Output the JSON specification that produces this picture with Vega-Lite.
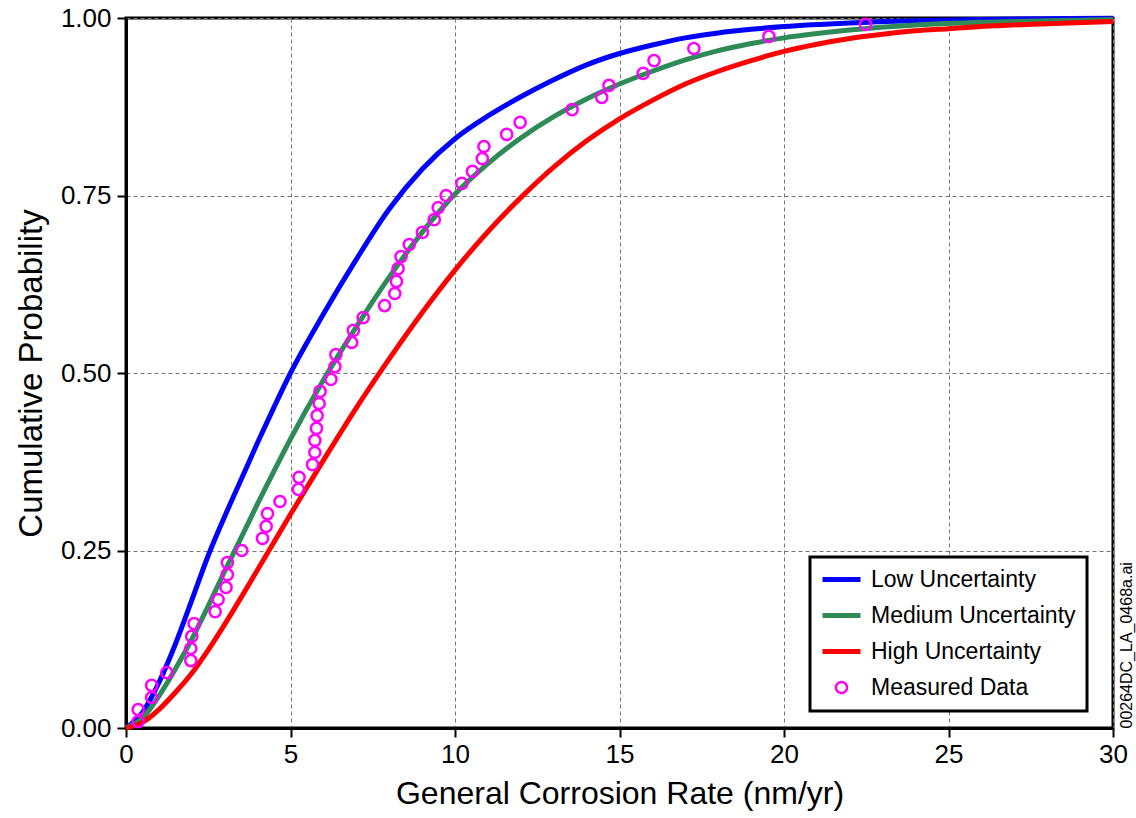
{
  "$schema": "https://vega.github.io/schema/vega-lite/v6.json",
  "width": 987,
  "height": 710,
  "autosize": {"type": "none"},
  "padding": {"left": 126, "top": 18, "right": 23, "bottom": 90},
  "background": "white",
  "config": {
    "font": "Liberation Sans",
    "view": {"stroke": "black", "strokeWidth": 3},
    "axis": {
      "domainColor": "black",
      "domainWidth": 3,
      "tickColor": "black",
      "tickWidth": 2,
      "tickSize": 9,
      "labelFontSize": 26,
      "labelColor": "black",
      "titleFontSize": 32,
      "titleColor": "black",
      "titleFontWeight": "normal",
      "gridColor": "#777777",
      "gridDash": [4, 3],
      "gridWidth": 1
    }
  },
  "datasets": {
    "curves": [
      {"series": "Low Uncertainty", "rate": 0, "prob": 0},
      {"series": "Low Uncertainty", "rate": 0.5, "prob": 0.022},
      {"series": "Low Uncertainty", "rate": 1, "prob": 0.064},
      {"series": "Low Uncertainty", "rate": 1.5, "prob": 0.118},
      {"series": "Low Uncertainty", "rate": 2, "prob": 0.18},
      {"series": "Low Uncertainty", "rate": 2.5, "prob": 0.243},
      {"series": "Low Uncertainty", "rate": 3, "prob": 0.298},
      {"series": "Low Uncertainty", "rate": 3.5, "prob": 0.35},
      {"series": "Low Uncertainty", "rate": 4, "prob": 0.402},
      {"series": "Low Uncertainty", "rate": 4.5, "prob": 0.452},
      {"series": "Low Uncertainty", "rate": 5, "prob": 0.5},
      {"series": "Low Uncertainty", "rate": 6, "prob": 0.583},
      {"series": "Low Uncertainty", "rate": 7, "prob": 0.66},
      {"series": "Low Uncertainty", "rate": 8, "prob": 0.731},
      {"series": "Low Uncertainty", "rate": 9, "prob": 0.787},
      {"series": "Low Uncertainty", "rate": 10, "prob": 0.83},
      {"series": "Low Uncertainty", "rate": 11, "prob": 0.862},
      {"series": "Low Uncertainty", "rate": 12, "prob": 0.889},
      {"series": "Low Uncertainty", "rate": 13, "prob": 0.913},
      {"series": "Low Uncertainty", "rate": 14, "prob": 0.934},
      {"series": "Low Uncertainty", "rate": 15, "prob": 0.95},
      {"series": "Low Uncertainty", "rate": 16, "prob": 0.962},
      {"series": "Low Uncertainty", "rate": 17, "prob": 0.972},
      {"series": "Low Uncertainty", "rate": 18, "prob": 0.979},
      {"series": "Low Uncertainty", "rate": 19, "prob": 0.984},
      {"series": "Low Uncertainty", "rate": 20, "prob": 0.988},
      {"series": "Low Uncertainty", "rate": 22, "prob": 0.993},
      {"series": "Low Uncertainty", "rate": 24, "prob": 0.996},
      {"series": "Low Uncertainty", "rate": 26, "prob": 0.998},
      {"series": "Low Uncertainty", "rate": 28, "prob": 0.999},
      {"series": "Low Uncertainty", "rate": 30, "prob": 0.9995},
      {"series": "Medium Uncertainty", "rate": 0, "prob": 0},
      {"series": "Medium Uncertainty", "rate": 0.5, "prob": 0.014},
      {"series": "Medium Uncertainty", "rate": 1, "prob": 0.045},
      {"series": "Medium Uncertainty", "rate": 1.5, "prob": 0.083},
      {"series": "Medium Uncertainty", "rate": 2, "prob": 0.125},
      {"series": "Medium Uncertainty", "rate": 2.5, "prob": 0.172},
      {"series": "Medium Uncertainty", "rate": 3, "prob": 0.221},
      {"series": "Medium Uncertainty", "rate": 3.5, "prob": 0.268},
      {"series": "Medium Uncertainty", "rate": 4, "prob": 0.316},
      {"series": "Medium Uncertainty", "rate": 4.5, "prob": 0.362},
      {"series": "Medium Uncertainty", "rate": 5, "prob": 0.407},
      {"series": "Medium Uncertainty", "rate": 6, "prob": 0.49},
      {"series": "Medium Uncertainty", "rate": 7, "prob": 0.565},
      {"series": "Medium Uncertainty", "rate": 8, "prob": 0.635},
      {"series": "Medium Uncertainty", "rate": 9, "prob": 0.698},
      {"series": "Medium Uncertainty", "rate": 10, "prob": 0.752},
      {"series": "Medium Uncertainty", "rate": 11, "prob": 0.795},
      {"series": "Medium Uncertainty", "rate": 12, "prob": 0.831},
      {"series": "Medium Uncertainty", "rate": 13, "prob": 0.861},
      {"series": "Medium Uncertainty", "rate": 14, "prob": 0.886},
      {"series": "Medium Uncertainty", "rate": 15, "prob": 0.907},
      {"series": "Medium Uncertainty", "rate": 16, "prob": 0.925},
      {"series": "Medium Uncertainty", "rate": 17, "prob": 0.941},
      {"series": "Medium Uncertainty", "rate": 18, "prob": 0.954},
      {"series": "Medium Uncertainty", "rate": 19, "prob": 0.964},
      {"series": "Medium Uncertainty", "rate": 20, "prob": 0.972},
      {"series": "Medium Uncertainty", "rate": 22, "prob": 0.983},
      {"series": "Medium Uncertainty", "rate": 24, "prob": 0.99},
      {"series": "Medium Uncertainty", "rate": 26, "prob": 0.994},
      {"series": "Medium Uncertainty", "rate": 28, "prob": 0.996},
      {"series": "Medium Uncertainty", "rate": 30, "prob": 0.998},
      {"series": "High Uncertainty", "rate": 0, "prob": 0},
      {"series": "High Uncertainty", "rate": 0.5, "prob": 0.008},
      {"series": "High Uncertainty", "rate": 1, "prob": 0.026},
      {"series": "High Uncertainty", "rate": 1.5, "prob": 0.05},
      {"series": "High Uncertainty", "rate": 2, "prob": 0.077},
      {"series": "High Uncertainty", "rate": 2.5, "prob": 0.11},
      {"series": "High Uncertainty", "rate": 3, "prob": 0.146},
      {"series": "High Uncertainty", "rate": 3.5, "prob": 0.184},
      {"series": "High Uncertainty", "rate": 4, "prob": 0.223},
      {"series": "High Uncertainty", "rate": 4.5, "prob": 0.262},
      {"series": "High Uncertainty", "rate": 5, "prob": 0.301},
      {"series": "High Uncertainty", "rate": 6, "prob": 0.377},
      {"series": "High Uncertainty", "rate": 7, "prob": 0.451},
      {"series": "High Uncertainty", "rate": 8, "prob": 0.52},
      {"series": "High Uncertainty", "rate": 9, "prob": 0.585},
      {"series": "High Uncertainty", "rate": 10, "prob": 0.645},
      {"series": "High Uncertainty", "rate": 11, "prob": 0.699},
      {"series": "High Uncertainty", "rate": 12, "prob": 0.747},
      {"series": "High Uncertainty", "rate": 13, "prob": 0.79},
      {"series": "High Uncertainty", "rate": 14, "prob": 0.827},
      {"series": "High Uncertainty", "rate": 15, "prob": 0.858},
      {"series": "High Uncertainty", "rate": 16, "prob": 0.884},
      {"series": "High Uncertainty", "rate": 17, "prob": 0.907},
      {"series": "High Uncertainty", "rate": 18, "prob": 0.925},
      {"series": "High Uncertainty", "rate": 19, "prob": 0.94},
      {"series": "High Uncertainty", "rate": 20, "prob": 0.953},
      {"series": "High Uncertainty", "rate": 21, "prob": 0.963},
      {"series": "High Uncertainty", "rate": 22, "prob": 0.971},
      {"series": "High Uncertainty", "rate": 23, "prob": 0.977},
      {"series": "High Uncertainty", "rate": 24, "prob": 0.982},
      {"series": "High Uncertainty", "rate": 25, "prob": 0.985},
      {"series": "High Uncertainty", "rate": 26, "prob": 0.988},
      {"series": "High Uncertainty", "rate": 28, "prob": 0.992},
      {"series": "High Uncertainty", "rate": 30, "prob": 0.995}
    ],
    "measured": [
      {"series": "Measured Data", "rate": 0.37, "prob": 0.009},
      {"series": "Measured Data", "rate": 0.37, "prob": 0.026},
      {"series": "Measured Data", "rate": 0.78, "prob": 0.043},
      {"series": "Measured Data", "rate": 0.78, "prob": 0.06},
      {"series": "Measured Data", "rate": 1.24, "prob": 0.078},
      {"series": "Measured Data", "rate": 1.97, "prob": 0.095},
      {"series": "Measured Data", "rate": 1.97, "prob": 0.112},
      {"series": "Measured Data", "rate": 2.0, "prob": 0.129},
      {"series": "Measured Data", "rate": 2.07, "prob": 0.147},
      {"series": "Measured Data", "rate": 2.71, "prob": 0.164},
      {"series": "Measured Data", "rate": 2.8, "prob": 0.181},
      {"series": "Measured Data", "rate": 3.04, "prob": 0.198},
      {"series": "Measured Data", "rate": 3.08, "prob": 0.216},
      {"series": "Measured Data", "rate": 3.08, "prob": 0.233},
      {"series": "Measured Data", "rate": 3.52, "prob": 0.25},
      {"series": "Measured Data", "rate": 4.15, "prob": 0.267},
      {"series": "Measured Data", "rate": 4.26, "prob": 0.284},
      {"series": "Measured Data", "rate": 4.3, "prob": 0.302},
      {"series": "Measured Data", "rate": 4.68, "prob": 0.319},
      {"series": "Measured Data", "rate": 5.24, "prob": 0.336},
      {"series": "Measured Data", "rate": 5.26, "prob": 0.353},
      {"series": "Measured Data", "rate": 5.67, "prob": 0.371},
      {"series": "Measured Data", "rate": 5.74, "prob": 0.388},
      {"series": "Measured Data", "rate": 5.74, "prob": 0.405},
      {"series": "Measured Data", "rate": 5.79, "prob": 0.422},
      {"series": "Measured Data", "rate": 5.81, "prob": 0.44},
      {"series": "Measured Data", "rate": 5.87, "prob": 0.457},
      {"series": "Measured Data", "rate": 5.9, "prob": 0.474},
      {"series": "Measured Data", "rate": 6.23, "prob": 0.491},
      {"series": "Measured Data", "rate": 6.35, "prob": 0.509},
      {"series": "Measured Data", "rate": 6.38, "prob": 0.526},
      {"series": "Measured Data", "rate": 6.86, "prob": 0.543},
      {"series": "Measured Data", "rate": 6.91, "prob": 0.56},
      {"series": "Measured Data", "rate": 7.21, "prob": 0.578},
      {"series": "Measured Data", "rate": 7.86, "prob": 0.595},
      {"series": "Measured Data", "rate": 8.17, "prob": 0.612},
      {"series": "Measured Data", "rate": 8.22, "prob": 0.629},
      {"series": "Measured Data", "rate": 8.27, "prob": 0.647},
      {"series": "Measured Data", "rate": 8.36, "prob": 0.664},
      {"series": "Measured Data", "rate": 8.61, "prob": 0.681},
      {"series": "Measured Data", "rate": 9.01, "prob": 0.698},
      {"series": "Measured Data", "rate": 9.37, "prob": 0.716},
      {"series": "Measured Data", "rate": 9.49, "prob": 0.733},
      {"series": "Measured Data", "rate": 9.73, "prob": 0.75},
      {"series": "Measured Data", "rate": 10.21, "prob": 0.767},
      {"series": "Measured Data", "rate": 10.53, "prob": 0.784},
      {"series": "Measured Data", "rate": 10.83, "prob": 0.802},
      {"series": "Measured Data", "rate": 10.88, "prob": 0.819},
      {"series": "Measured Data", "rate": 11.57, "prob": 0.836},
      {"series": "Measured Data", "rate": 11.98, "prob": 0.853},
      {"series": "Measured Data", "rate": 13.56, "prob": 0.871},
      {"series": "Measured Data", "rate": 14.46, "prob": 0.888},
      {"series": "Measured Data", "rate": 14.68, "prob": 0.905},
      {"series": "Measured Data", "rate": 15.72, "prob": 0.922},
      {"series": "Measured Data", "rate": 16.05, "prob": 0.94},
      {"series": "Measured Data", "rate": 17.26, "prob": 0.957},
      {"series": "Measured Data", "rate": 19.54, "prob": 0.974},
      {"series": "Measured Data", "rate": 22.48, "prob": 0.991}
    ]
  },
  "layer": [
    {
      "data": {"name": "curves"},
      "mark": {"type": "line", "strokeWidth": 5, "interpolate": "monotone"},
      "encoding": {
        "x": {
          "field": "rate",
          "type": "quantitative",
          "scale": {"domain": [0, 30], "nice": false, "zero": false},
          "axis": {
            "title": "General Corrosion Rate (nm/yr)",
            "values": [0, 5, 10, 15, 20, 25, 30],
            "format": "d",
            "labelPadding": 4,
            "titlePadding": 11,
            "labelFlush": false
          }
        },
        "y": {
          "field": "prob",
          "type": "quantitative",
          "scale": {"domain": [0, 1], "nice": false},
          "axis": {
            "title": "Cumulative Probability",
            "titleFontSize": 33,
            "values": [0, 0.25, 0.5, 0.75, 1],
            "format": ".2f",
            "labelPadding": 6,
            "titlePadding": 12,
            "labelFlush": false
          }
        },
        "color": {
          "field": "series",
          "type": "nominal",
          "scale": {
            "domain": ["Low Uncertainty", "Medium Uncertainty", "High Uncertainty", "Measured Data"],
            "range": ["#0000FF", "#2E8B57", "#FF0000", "#FF00FF"]
          },
          "legend": {
            "title": null,
            "orient": "none",
            "legendX": 684,
            "legendY": 539,
            "direction": "vertical",
            "padding": 11,
            "strokeColor": "black",
            "fillColor": "white",
            "symbolSize": 1444,
            "symbolStrokeWidth": 5,
            "symbolType": "stroke",
            "symbolOffset": 9,
            "clipHeight": 23,
            "labelFontSize": 23,
            "labelColor": "black",
            "labelOffset": 18,
            "rowPadding": 12,
            "labelLimit": 400,
            "encode": {
              "legend": {"update": {"strokeWidth": {"value": 3}}},
              "symbols": {
                "update": {
                  "shape": {"signal": "datum.value === 'Measured Data' ? 'circle' : 'stroke'"},
                  "size": {"signal": "datum.value === 'Measured Data' ? 125 : 1444"},
                  "strokeWidth": {"signal": "datum.value === 'Measured Data' ? 2.5 : 5"},
                  "fill": {"value": "transparent"},
                  "opacity": {"value": 1}
                }
              }
            }
          }
        }
      }
    },
    {
      "data": {"name": "measured"},
      "mark": {"type": "point", "shape": "circle", "filled": false, "size": 125, "strokeWidth": 2.5, "opacity": 1},
      "encoding": {
        "x": {"field": "rate", "type": "quantitative"},
        "y": {
          "field": "prob",
          "type": "quantitative",
          "axis": {
            "orient": "right",
            "title": "00264DC_LA_0468a.ai",
            "labels": false,
            "ticks": false,
            "domain": false,
            "grid": false,
            "titleFontSize": 16,
            "titleAngle": 270,
            "titleAlign": "left",
            "titleBaseline": "middle",
            "titleX": 13,
            "titleY": 710
          }
        },
        "color": {"field": "series", "type": "nominal"}
      }
    }
  ],
  "resolve": {"axis": {"y": "independent"}}
}
